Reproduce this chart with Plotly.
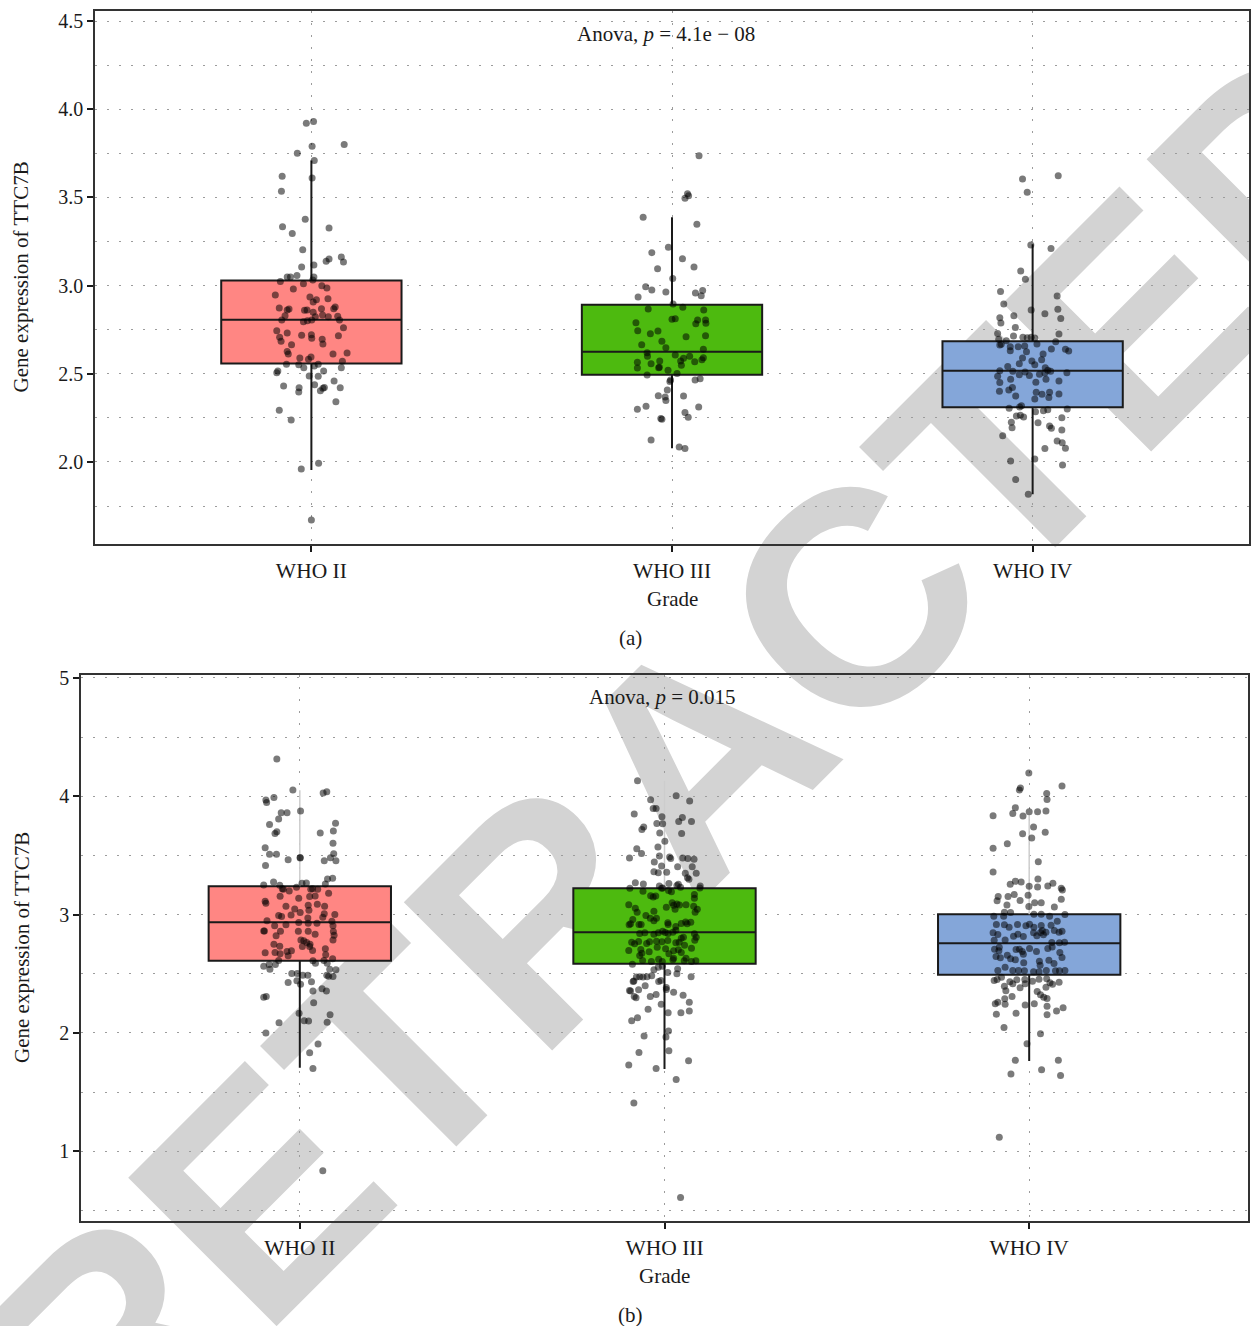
import base64
import plotly.graph_objects as go

W, H = 1251, 1326

grades = ["WHO II", "WHO III", "WHO IV"]
box_colors = ["#FF8683", "#4DBA0F", "#84A6D9"]

# ---------- panel (a): box statistics ----------
a_q1 = [2.559, 2.495, 2.310]
a_median = [2.807, 2.625, 2.518]
a_q3 = [3.029, 2.892, 2.684]
a_whisker_low = [1.955, 2.078, 1.817]
a_whisker_high = [3.710, 3.387, 3.234]
a_pvalue = "4.1e − 08"

# ---------- panel (b): box statistics ----------
b_q1 = [2.609, 2.584, 2.491]
b_median = [2.935, 2.851, 2.758]
b_q3 = [3.239, 3.222, 3.003]
b_whisker_low = [1.706, 1.695, 1.762]
b_whisker_high = [4.05, 4.13, 3.84]
b_pvalue = "0.015"

# ---------- samples: (expression, horizontal jitter) ----------
a_who2 = [
    (3.92, -0.014), (3.93, 0.006), (3.79, 0.002), (3.80, 0.091), (3.75, -0.039),
    (3.71, 0.008), (3.62, -0.081), (3.61, 0.002), (3.535, -0.083), (3.376, -0.017),
    (3.334, -0.080), (3.327, 0.049), (3.296, -0.053), (3.204, -0.024), (3.162, 0.083),
    (3.134, 0.089), (3.151, 0.049), (3.138, 0.041), (3.117, 0.007), (3.105, -0.027),
    (3.058, -0.040), (3.049, -0.067), (3.049, -0.058), (3.049, 0.007), (3.024, -0.086),
    (3.032, 0.004), (3.011, -0.022), (2.981, -0.050), (2.999, 0.029), (2.986, 0.043),
    (2.947, -0.100), (2.935, -0.004), (2.920, 0.014), (2.907, 0.005), (2.926, 0.046),
    (2.873, -0.089), (2.862, -0.067), (2.867, -0.062), (2.860, -0.019), (2.862, -0.012),
    (2.849, 0.005), (2.869, 0.028), (2.879, 0.066), (2.869, 0.062), (2.829, -0.073),
    (2.805, -0.082), (2.795, -0.022), (2.801, -0.011), (2.824, 0.011), (2.805, 0.001),
    (2.833, 0.031), (2.824, 0.047), (2.826, 0.073), (2.805, 0.078), (2.761, 0.089),
    (2.744, -0.096), (2.731, -0.067), (2.718, -0.027), (2.722, 0.000), (2.701, 0.001),
    (2.707, -0.088), (2.684, -0.084), (2.696, 0.030), (2.669, 0.032), (2.716, 0.075),
    (2.665, -0.055), (2.627, -0.067), (2.612, -0.064), (2.612, 0.060), (2.618, 0.099),
    (2.590, -0.032), (2.582, -0.008), (2.595, -0.001), (2.571, 0.086), (2.554, -0.069),
    (2.552, -0.035), (2.535, -0.021), (2.544, 0.008), (2.554, 0.019), (2.535, 0.083),
    (2.516, -0.093), (2.506, -0.096), (2.516, 0.034), (2.488, -0.006), (2.486, 0.019),
    (2.459, 0.063), (2.431, -0.077), (2.421, -0.034), (2.397, -0.035), (2.438, 0.009),
    (2.423, 0.036), (2.418, 0.032), (2.404, 0.025), (2.421, 0.080), (2.342, 0.068),
    (2.293, -0.089), (2.238, -0.056), (1.993, 0.020), (1.960, -0.028), (1.671, 0.000),
]

a_who3 = [
    (3.737, 0.075), (3.521, 0.043), (3.495, 0.036), (3.510, 0.046), (3.387, -0.080),
    (3.348, 0.069), (3.217, -0.010), (3.187, -0.056), (3.153, 0.029), (3.105, 0.061),
    (3.096, -0.040), (3.041, 0.002), (2.994, -0.073), (2.975, -0.056), (2.964, -0.017),
    (2.958, 0.065), (2.973, 0.085), (2.943, 0.081), (2.935, -0.094), (2.896, 0.003),
    (2.877, 0.030), (2.867, -0.066), (2.862, 0.088), (2.809, 0.000), (2.812, 0.009),
    (2.805, 0.071), (2.784, 0.066), (2.805, 0.093), (2.786, 0.094), (2.790, -0.100),
    (2.744, -0.095), (2.727, -0.060), (2.743, -0.039), (2.710, 0.039), (2.716, 0.093),
    (2.684, -0.028), (2.665, -0.084), (2.648, -0.017), (2.639, 0.087), (2.620, -0.069),
    (2.599, -0.068), (2.607, 0.009), (2.588, 0.032), (2.573, 0.024), (2.599, 0.049),
    (2.580, 0.083), (2.591, 0.087), (2.569, 0.063), (2.565, -0.096), (2.557, -0.058),
    (2.573, -0.034), (2.533, -0.096), (2.535, -0.037), (2.537, -0.035), (2.548, 0.026),
    (2.520, -0.011), (2.501, 0.014), (2.493, -0.069), (2.465, 0.064), (2.472, 0.078),
    (2.457, -0.006), (2.465, -0.004), (2.408, -0.013), (2.376, -0.038), (2.368, -0.019),
    (2.348, -0.017), (2.374, 0.032), (2.316, -0.072), (2.299, -0.096), (2.312, 0.074),
    (2.280, 0.036), (2.253, 0.045), (2.246, -0.031), (2.243, -0.028), (2.125, -0.058),
    (2.085, 0.020), (2.076, 0.036),
]

a_who4 = [
    (3.623, 0.071), (3.604, -0.028), (3.529, -0.015), (3.230, -0.005), (3.211, 0.051),
    (3.083, -0.033), (3.036, -0.020), (2.966, -0.089), (2.941, 0.068), (2.896, -0.080),
    (2.862, -0.004), (2.841, 0.034), (2.866, 0.070), (2.818, -0.091), (2.788, -0.088),
    (2.829, -0.052), (2.814, 0.078), (2.763, -0.048), (2.729, -0.097), (2.726, 0.073),
    (2.714, -0.053), (2.707, -0.027), (2.705, -0.015), (2.707, -0.004), (2.703, 0.006),
    (2.696, -0.094), (2.688, -0.073), (2.682, 0.064), (2.663, -0.091), (2.667, -0.087),
    (2.654, -0.062), (2.631, -0.062), (2.654, -0.040), (2.658, -0.022), (2.669, 0.012),
    (2.641, 0.052), (2.639, 0.091), (2.629, 0.100), (2.625, -0.017), (2.612, 0.029),
    (2.590, -0.028), (2.580, 0.025), (2.557, -0.037), (2.573, -0.002), (2.552, 0.006),
    (2.541, -0.069), (2.535, 0.035), (2.520, 0.042), (2.514, 0.050), (2.518, -0.091),
    (2.486, -0.097), (2.514, -0.055), (2.495, -0.037), (2.510, -0.021), (2.491, -0.009),
    (2.497, 0.019), (2.505, 0.034), (2.506, 0.095), (2.469, 0.037), (2.469, -0.061),
    (2.450, -0.091), (2.452, 0.009), (2.459, 0.073), (2.423, -0.056), (2.408, -0.066),
    (2.401, -0.092), (2.374, -0.047), (2.395, 0.010), (2.384, 0.026), (2.395, 0.047),
    (2.365, 0.045), (2.357, 0.006), (2.385, 0.073), (2.304, -0.065), (2.312, -0.036),
    (2.319, -0.031), (2.285, 0.008), (2.291, 0.030), (2.296, 0.042), (2.300, 0.096),
    (2.261, -0.045), (2.255, -0.025), (2.265, -0.034), (2.251, 0.081), (2.225, -0.059),
    (2.194, -0.057), (2.223, 0.015), (2.204, 0.047), (2.191, 0.052), (2.181, 0.081),
    (2.149, -0.083), (2.119, 0.068), (2.109, 0.082), (2.078, 0.091), (2.076, 0.034),
    (2.017, 0.006), (2.006, -0.061), (1.983, 0.083), (1.900, -0.047), (1.817, -0.012),
]

b_who2 = [
    (4.314, -0.063), (4.052, -0.019), (4.027, 0.064), (4.038, 0.074), (3.968, -0.093),
    (3.948, -0.091), (3.990, -0.071), (3.875, 0.002), (3.861, -0.051), (3.861, -0.035),
    (3.808, -0.058), (3.771, 0.098), (3.762, -0.083), (3.706, 0.092), (3.689, 0.056),
    (3.686, -0.068), (3.700, -0.063), (3.602, 0.091), (3.565, -0.095), (3.509, -0.083),
    (3.509, -0.064), (3.464, -0.032), (3.483, 0.001), (3.478, 0.001), (3.456, 0.067),
    (3.481, 0.084), (3.515, 0.093), (3.456, 0.099), (3.414, -0.094), (3.301, 0.076),
    (3.306, 0.090), (3.276, -0.072), (3.251, -0.099), (3.247, -0.055), (3.219, -0.048),
    (3.230, -0.009), (3.264, 0.006), (3.267, 0.018), (3.214, 0.030), (3.219, 0.035),
    (3.214, 0.049), (3.259, 0.070), (3.200, -0.029), (3.214, -0.045), (3.180, 0.079),
    (3.155, -0.054), (3.138, -0.003), (3.152, 0.027), (3.158, 0.042), (3.112, -0.095),
    (3.095, -0.093), (3.087, 0.048), (3.070, -0.038), (3.048, -0.014), (3.017, 0.001),
    (3.078, 0.023), (3.036, 0.025), (3.070, 0.068), (3.006, 0.067), (3.000, 0.096),
    (2.992, -0.058), (2.983, -0.050), (2.997, -0.024), (2.972, 0.022), (2.977, 0.063),
    (2.947, -0.090), (2.913, -0.038), (2.932, -0.003), (2.927, 0.023), (2.927, 0.047),
    (2.944, 0.088), (2.905, 0.091), (2.905, -0.069), (2.862, -0.099), (2.862, -0.097),
    (2.859, -0.053), (2.859, -0.004), (2.859, 0.023), (2.857, 0.092), (2.825, 0.094),
    (2.820, -0.065), (2.834, 0.042), (2.786, 0.091), (2.786, 0.003), (2.778, 0.011),
    (2.764, 0.019), (2.749, 0.028), (2.730, 0.027), (2.749, -0.071), (2.732, -0.055),
    (2.730, 0.007), (2.711, 0.070), (2.677, -0.095), (2.679, -0.068), (2.688, -0.035),
    (2.694, -0.023), (2.651, -0.032), (2.668, -0.054), (2.696, 0.035), (2.660, 0.071),
    (2.626, 0.090), (2.612, -0.058), (2.609, 0.036), (2.589, 0.043), (2.612, 0.066),
    (2.578, -0.084), (2.564, -0.099), (2.538, -0.082), (2.578, -0.067), (2.589, 0.075),
    (2.538, 0.082), (2.533, 0.099), (2.502, -0.022), (2.502, -0.007), (2.488, 0.008),
    (2.488, 0.022), (2.488, 0.074), (2.479, 0.079), (2.477, 0.091), (2.426, -0.032),
    (2.441, -0.008), (2.412, 0.002), (2.432, 0.032), (2.302, -0.099), (2.308, -0.092),
    (2.353, 0.036), (2.373, 0.061), (2.353, 0.073), (2.255, 0.038), (2.167, -0.002),
    (2.103, 0.012), (2.100, 0.024), (2.154, 0.083), (2.089, 0.075), (2.086, -0.057),
    (1.998, -0.093), (1.906, 0.050), (1.833, 0.027), (1.700, 0.036), (0.834, 0.063),
]

b_who3 = [
    (4.131, -0.074), (4.004, 0.032), (3.970, -0.038), (3.959, 0.069), (3.897, -0.031),
    (3.897, -0.023), (3.850, -0.083), (3.827, -0.007), (3.821, 0.049), (3.787, 0.039),
    (3.787, 0.074), (3.770, -0.021), (3.768, -0.005), (3.740, -0.057), (3.720, -0.062),
    (3.689, -0.013), (3.686, 0.047), (3.619, 0.001), (3.571, -0.018), (3.557, -0.076),
    (3.517, -0.063), (3.478, -0.096), (3.475, 0.017), (3.487, 0.014), (3.495, -0.014),
    (3.478, 0.050), (3.475, 0.064), (3.467, 0.081), (3.445, -0.028), (3.405, 0.036),
    (3.411, -0.008), (3.405, 0.076), (3.363, -0.029), (3.354, -0.017), (3.357, 0.006),
    (3.349, 0.057), (3.349, 0.087), (3.312, 0.063), (3.298, 0.067), (3.270, -0.080),
    (3.259, -0.058), (3.262, 0.012), (3.242, -0.014), (3.222, -0.008), (3.256, 0.038),
    (3.230, 0.044), (3.245, 0.034), (3.242, 0.098), (3.225, 0.097), (3.222, -0.095),
    (3.197, -0.059), (3.160, -0.038), (3.149, -0.031), (3.158, -0.024), (3.225, -0.005),
    (3.203, 0.011), (3.194, 0.019), (3.169, 0.082), (3.138, 0.082), (3.084, -0.098),
    (3.053, -0.080), (3.019, -0.075), (3.028, -0.029), (3.062, 0.005), (3.099, 0.021),
    (3.078, 0.025), (3.090, 0.034), (3.082, 0.041), (3.045, 0.029), (3.084, 0.059),
    (3.070, 0.080), (3.045, 0.090), (3.019, 0.084), (2.992, -0.051), (2.969, -0.039),
    (2.947, -0.029), (2.969, -0.022), (2.958, -0.087), (2.922, -0.093), (2.913, -0.097),
    (2.916, -0.070), (2.916, -0.064), (2.930, 0.009), (2.916, 0.010), (2.924, 0.046),
    (2.938, 0.058), (2.922, 0.062), (2.935, 0.072), (2.899, 0.031), (2.859, -0.005),
    (2.848, 0.002), (2.840, 0.010), (2.840, -0.068), (2.846, -0.054), (2.834, -0.029),
    (2.846, -0.017), (2.851, 0.023), (2.867, 0.031), (2.800, 0.046), (2.808, 0.052),
    (2.837, 0.082), (2.808, 0.087), (2.766, -0.090), (2.753, -0.082), (2.772, -0.071),
    (2.755, -0.049), (2.770, -0.041), (2.775, -0.022), (2.770, -0.007), (2.781, 0.009),
    (2.761, 0.031), (2.766, 0.040), (2.741, 0.055), (2.783, 0.083), (2.696, -0.098),
    (2.705, -0.065), (2.673, -0.062), (2.685, -0.042), (2.724, -0.020), (2.711, 0.003),
    (2.668, 0.012), (2.694, 0.025), (2.702, 0.038), (2.679, 0.046), (2.716, 0.074),
    (2.654, -0.068), (2.612, -0.060), (2.603, -0.036), (2.623, -0.016), (2.603, -0.006),
    (2.618, 0.023), (2.631, 0.025), (2.609, 0.054), (2.631, 0.059), (2.603, 0.074),
    (2.609, 0.086), (2.581, -0.088), (2.533, -0.029), (2.555, -0.017), (2.564, -0.006),
    (2.542, 0.036), (2.500, 0.034), (2.511, 0.009), (2.474, 0.073), (2.472, -0.077),
    (2.475, -0.068), (2.472, -0.059), (2.475, -0.048), (2.483, -0.035), (2.435, -0.086),
    (2.438, -0.084), (2.398, -0.053), (2.435, -0.016), (2.443, -0.010), (2.384, 0.005),
    (2.367, 0.005), (2.344, 0.025), (2.365, -0.071), (2.359, -0.096), (2.353, -0.093),
    (2.308, -0.083), (2.297, -0.078), (2.308, -0.039), (2.325, -0.023), (2.319, 0.051),
    (2.260, 0.068), (2.200, -0.045), (2.241, -0.009), (2.170, 0.010), (2.170, 0.045),
    (2.184, 0.068), (2.103, -0.090), (2.128, -0.074), (1.965, 0.004), (2.015, 0.011),
    (1.973, -0.056), (1.850, 0.012), (1.835, -0.070), (1.765, 0.066), (1.728, -0.098),
    (1.698, -0.023), (1.605, 0.032), (1.408, -0.084), (0.609, 0.044),
]

b_who4 = [
    (4.196, -0.001), (4.086, 0.090), (4.052, -0.027), (4.069, -0.024), (4.024, 0.048),
    (3.973, 0.049), (3.835, -0.099), (3.903, -0.038), (3.855, -0.045), (3.833, -0.017),
    (3.869, 0.000), (3.869, 0.023), (3.875, 0.046), (3.740, 0.012), (3.695, 0.044),
    (3.684, -0.018), (3.647, 0.007), (3.599, -0.060), (3.560, -0.099), (3.447, 0.025),
    (3.360, -0.099), (3.301, 0.024), (3.256, -0.052), (3.281, -0.038), (3.276, -0.022),
    (3.239, 0.000), (3.234, 0.023), (3.242, 0.051), (3.264, 0.065), (3.222, 0.088),
    (3.208, 0.091), (3.152, -0.085), (3.116, -0.088), (3.152, -0.058), (3.082, -0.061),
    (3.169, -0.041), (3.118, -0.025), (3.163, -0.003), (3.068, -0.001), (3.099, 0.015),
    (3.101, 0.033), (3.129, 0.088), (3.065, 0.069), (3.019, -0.068), (3.017, -0.051),
    (2.986, -0.070), (3.000, 0.098), (3.003, 0.013), (3.003, 0.033), (2.986, 0.056),
    (2.944, 0.077), (2.986, -0.097), (2.916, -0.090), (2.916, -0.032), (2.905, -0.009),
    (2.918, 0.001), (2.893, 0.013), (2.913, -0.068), (2.893, -0.055), (2.907, 0.033),
    (2.865, 0.036), (2.851, 0.046), (2.910, 0.060), (2.865, 0.069), (2.851, 0.082),
    (2.859, 0.090), (2.846, -0.099), (2.831, -0.086), (2.783, -0.096), (2.786, -0.066),
    (2.817, -0.043), (2.834, -0.031), (2.814, -0.016), (2.846, 0.012), (2.820, 0.021),
    (2.848, 0.031), (2.829, 0.039), (2.724, -0.082), (2.707, -0.095), (2.694, -0.083),
    (2.705, -0.036), (2.707, -0.027), (2.688, -0.019), (2.665, -0.016), (2.713, 0.001),
    (2.688, 0.020), (2.764, 0.062), (2.761, 0.083), (2.766, 0.097), (2.713, 0.051),
    (2.727, 0.063), (2.679, 0.084), (2.637, 0.090), (2.646, -0.091), (2.635, -0.079),
    (2.657, -0.060), (2.626, -0.051), (2.618, -0.038), (2.592, -0.015), (2.606, 0.028),
    (2.572, 0.030), (2.614, 0.054), (2.586, 0.068), (2.555, -0.066), (2.527, -0.086),
    (2.527, -0.045), (2.527, -0.029), (2.525, -0.013), (2.516, 0.012), (2.516, 0.027),
    (2.527, 0.047), (2.525, 0.072), (2.525, 0.083), (2.527, 0.098), (2.443, -0.096),
    (2.451, -0.088), (2.471, -0.076), (2.432, -0.053), (2.449, -0.034), (2.451, -0.012),
    (2.437, 0.009), (2.454, 0.027), (2.457, 0.048), (2.424, 0.057), (2.429, 0.082),
    (2.395, -0.068), (2.415, -0.045), (2.381, -0.025), (2.415, -0.011), (2.350, 0.022),
    (2.322, 0.031), (2.302, 0.040), (2.291, 0.049), (2.356, -0.064), (2.308, -0.047),
    (2.289, -0.067), (2.386, 0.046), (2.412, 0.064), (2.246, -0.093), (2.260, -0.086),
    (2.243, -0.066), (2.235, -0.011), (2.246, 0.014), (2.226, 0.049), (2.184, 0.075),
    (2.213, 0.093), (2.158, -0.090), (2.167, -0.036), (2.154, 0.049), (2.046, -0.069),
    (1.993, 0.031), (1.909, -0.006), (1.768, -0.038), (1.768, 0.080), (1.652, -0.050),
    (1.689, 0.034), (1.639, 0.086), (1.118, -0.082),
]

SERIF = "Liberation Serif"
INK = "#1a1a1a"
GRID = "#9c9c9c"
DOTS = "2px,10px"


def frac_x(px):
    return px / W


def frac_y(py):
    return 1 - py / H


fig = go.Figure()

panels = [
    dict(xa="x", ya="y", q1=a_q1, med=a_median, q3=a_q3, lo=a_whisker_low,
         hi=a_whisker_high, groups=[a_who2, a_who3, a_who4], faint_top=False),
    dict(xa="x2", ya="y2", q1=b_q1, med=b_median, q3=b_q3, lo=b_whisker_low,
         hi=b_whisker_high, groups=[b_who2, b_who3, b_who4], faint_top=True),
]

for p in panels:
    for i, grade in enumerate(grades):
        upper = p["q3"][i] if p["faint_top"] else p["hi"][i]
        fig.add_trace(go.Box(
            x=[i], q1=[p["q1"][i]], median=[p["med"][i]], q3=[p["q3"][i]],
            lowerfence=[p["lo"][i]], upperfence=[upper],
            width=0.5, whiskerwidth=0, boxpoints=False,
            fillcolor=box_colors[i], line=dict(color=INK, width=2),
            xaxis=p["xa"], yaxis=p["ya"], showlegend=False, hoverinfo="skip",
            name=grade,
        ))
        if p["faint_top"]:
            fig.add_trace(go.Scatter(
                x=[i, i], y=[p["q3"][i], p["hi"][i]], mode="lines",
                line=dict(color="#cdcdcd", width=1.5),
                xaxis=p["xa"], yaxis=p["ya"], showlegend=False, hoverinfo="skip",
            ))
    for i, samples in enumerate(p["groups"]):
        fig.add_trace(go.Scatter(
            x=[i + dx for _, dx in samples], y=[v for v, _ in samples],
            mode="markers",
            marker=dict(color="rgba(0,0,0,0.52)", size=7, line=dict(width=0)),
            xaxis=p["xa"], yaxis=p["ya"], showlegend=False, hoverinfo="skip",
        ))

xcommon = dict(
    range=[-0.6, 2.6], tickmode="array", tickvals=[0, 1, 2], ticktext=grades,
    showgrid=True, gridcolor=GRID, gridwidth=1, griddash=DOTS, zeroline=False,
    showline=True, linecolor="#333333", linewidth=1.5, mirror=True,
    ticks="outside", ticklen=6, tickwidth=2, tickcolor=INK,
    tickfont=dict(family=SERIF, size=21.5, color=INK),
)
ycommon = dict(
    showgrid=True, gridcolor=GRID, gridwidth=1, griddash=DOTS, zeroline=False,
    showline=True, linecolor="#333333", linewidth=1.5, mirror=True,
    ticks="outside", ticklen=6, tickwidth=2, tickcolor=INK,
    tickfont=dict(family=SERIF, size=20, color=INK),
)

fig.update_layout(
    xaxis=dict(xcommon, domain=[frac_x(95), frac_x(1249)], anchor="y"),
    yaxis=dict(ycommon, domain=[frac_y(544), frac_y(11)], anchor="x",
               range=[1.535, 4.557], tickmode="linear", tick0=2.0, dtick=0.5,
               tickformat=".1f",
               minor=dict(tick0=1.75, dtick=0.25, showgrid=True, gridcolor=GRID,
                          griddash=DOTS, gridwidth=1)),
    xaxis2=dict(xcommon, domain=[frac_x(81), frac_x(1248)], anchor="y2"),
    yaxis2=dict(ycommon, domain=[frac_y(1221), frac_y(675)], anchor="x2",
                range=[0.41, 5.025], tickmode="linear", tick0=1, dtick=1,
                tickformat="d",
                minor=dict(tick0=0.5, dtick=0.5, showgrid=True, gridcolor=GRID,
                           griddash=DOTS, gridwidth=1)),
)

text_font = dict(family=SERIF, size=21, color=INK)
notes = [
    ("Gene expression of TTC7B", 20, 277.5, -90),
    ("Gene expression of TTC7B", 22, 948, -90),
    ("Grade", 672, 599, 0),
    ("Grade", 665, 1276, 0),
    ("(a)", 630, 638, 0),
    ("(b)", 630, 1315, 0),
    ("Anova, <i>p</i> = " + a_pvalue, 666, 34, 0),
    ("Anova, <i>p</i> = " + b_pvalue, 662, 697, 0),
]
for text, px, py, ang in notes:
    fig.add_annotation(
        text=text, x=frac_x(px), y=frac_y(py), xref="paper", yref="paper",
        xanchor="center", yanchor="middle", showarrow=False, textangle=ang,
        font=text_font,
    )

# Diagonal "RETRACTED" stamp behind the plotted data
stamp_svg = (
    f'<svg xmlns="http://www.w3.org/2000/svg" width="{W}" height="{H}" '
    f'viewBox="0 0 {W} {H}">'
    '<text x="0" y="108" transform="translate(695,755) rotate(-45)" '
    'text-anchor="middle" font-family="Liberation Sans, Arial, sans-serif" '
    'font-weight="bold" font-size="305" fill="#d3d3d3">RETRACTED</text></svg>'
)
stamp_uri = "data:image/svg+xml;base64," + base64.b64encode(stamp_svg.encode()).decode()

fig.update_layout(
    width=W, height=H,
    margin=dict(l=0, r=0, t=0, b=0, autoexpand=False),
    paper_bgcolor="white", plot_bgcolor="rgba(0,0,0,0)",
    showlegend=False,
    images=[dict(source=stamp_uri, xref="paper", yref="paper", x=0, y=1,
                 sizex=1, sizey=1, xanchor="left", yanchor="top",
                 sizing="stretch", layer="below")],
)

fig.write_html("out.html")
